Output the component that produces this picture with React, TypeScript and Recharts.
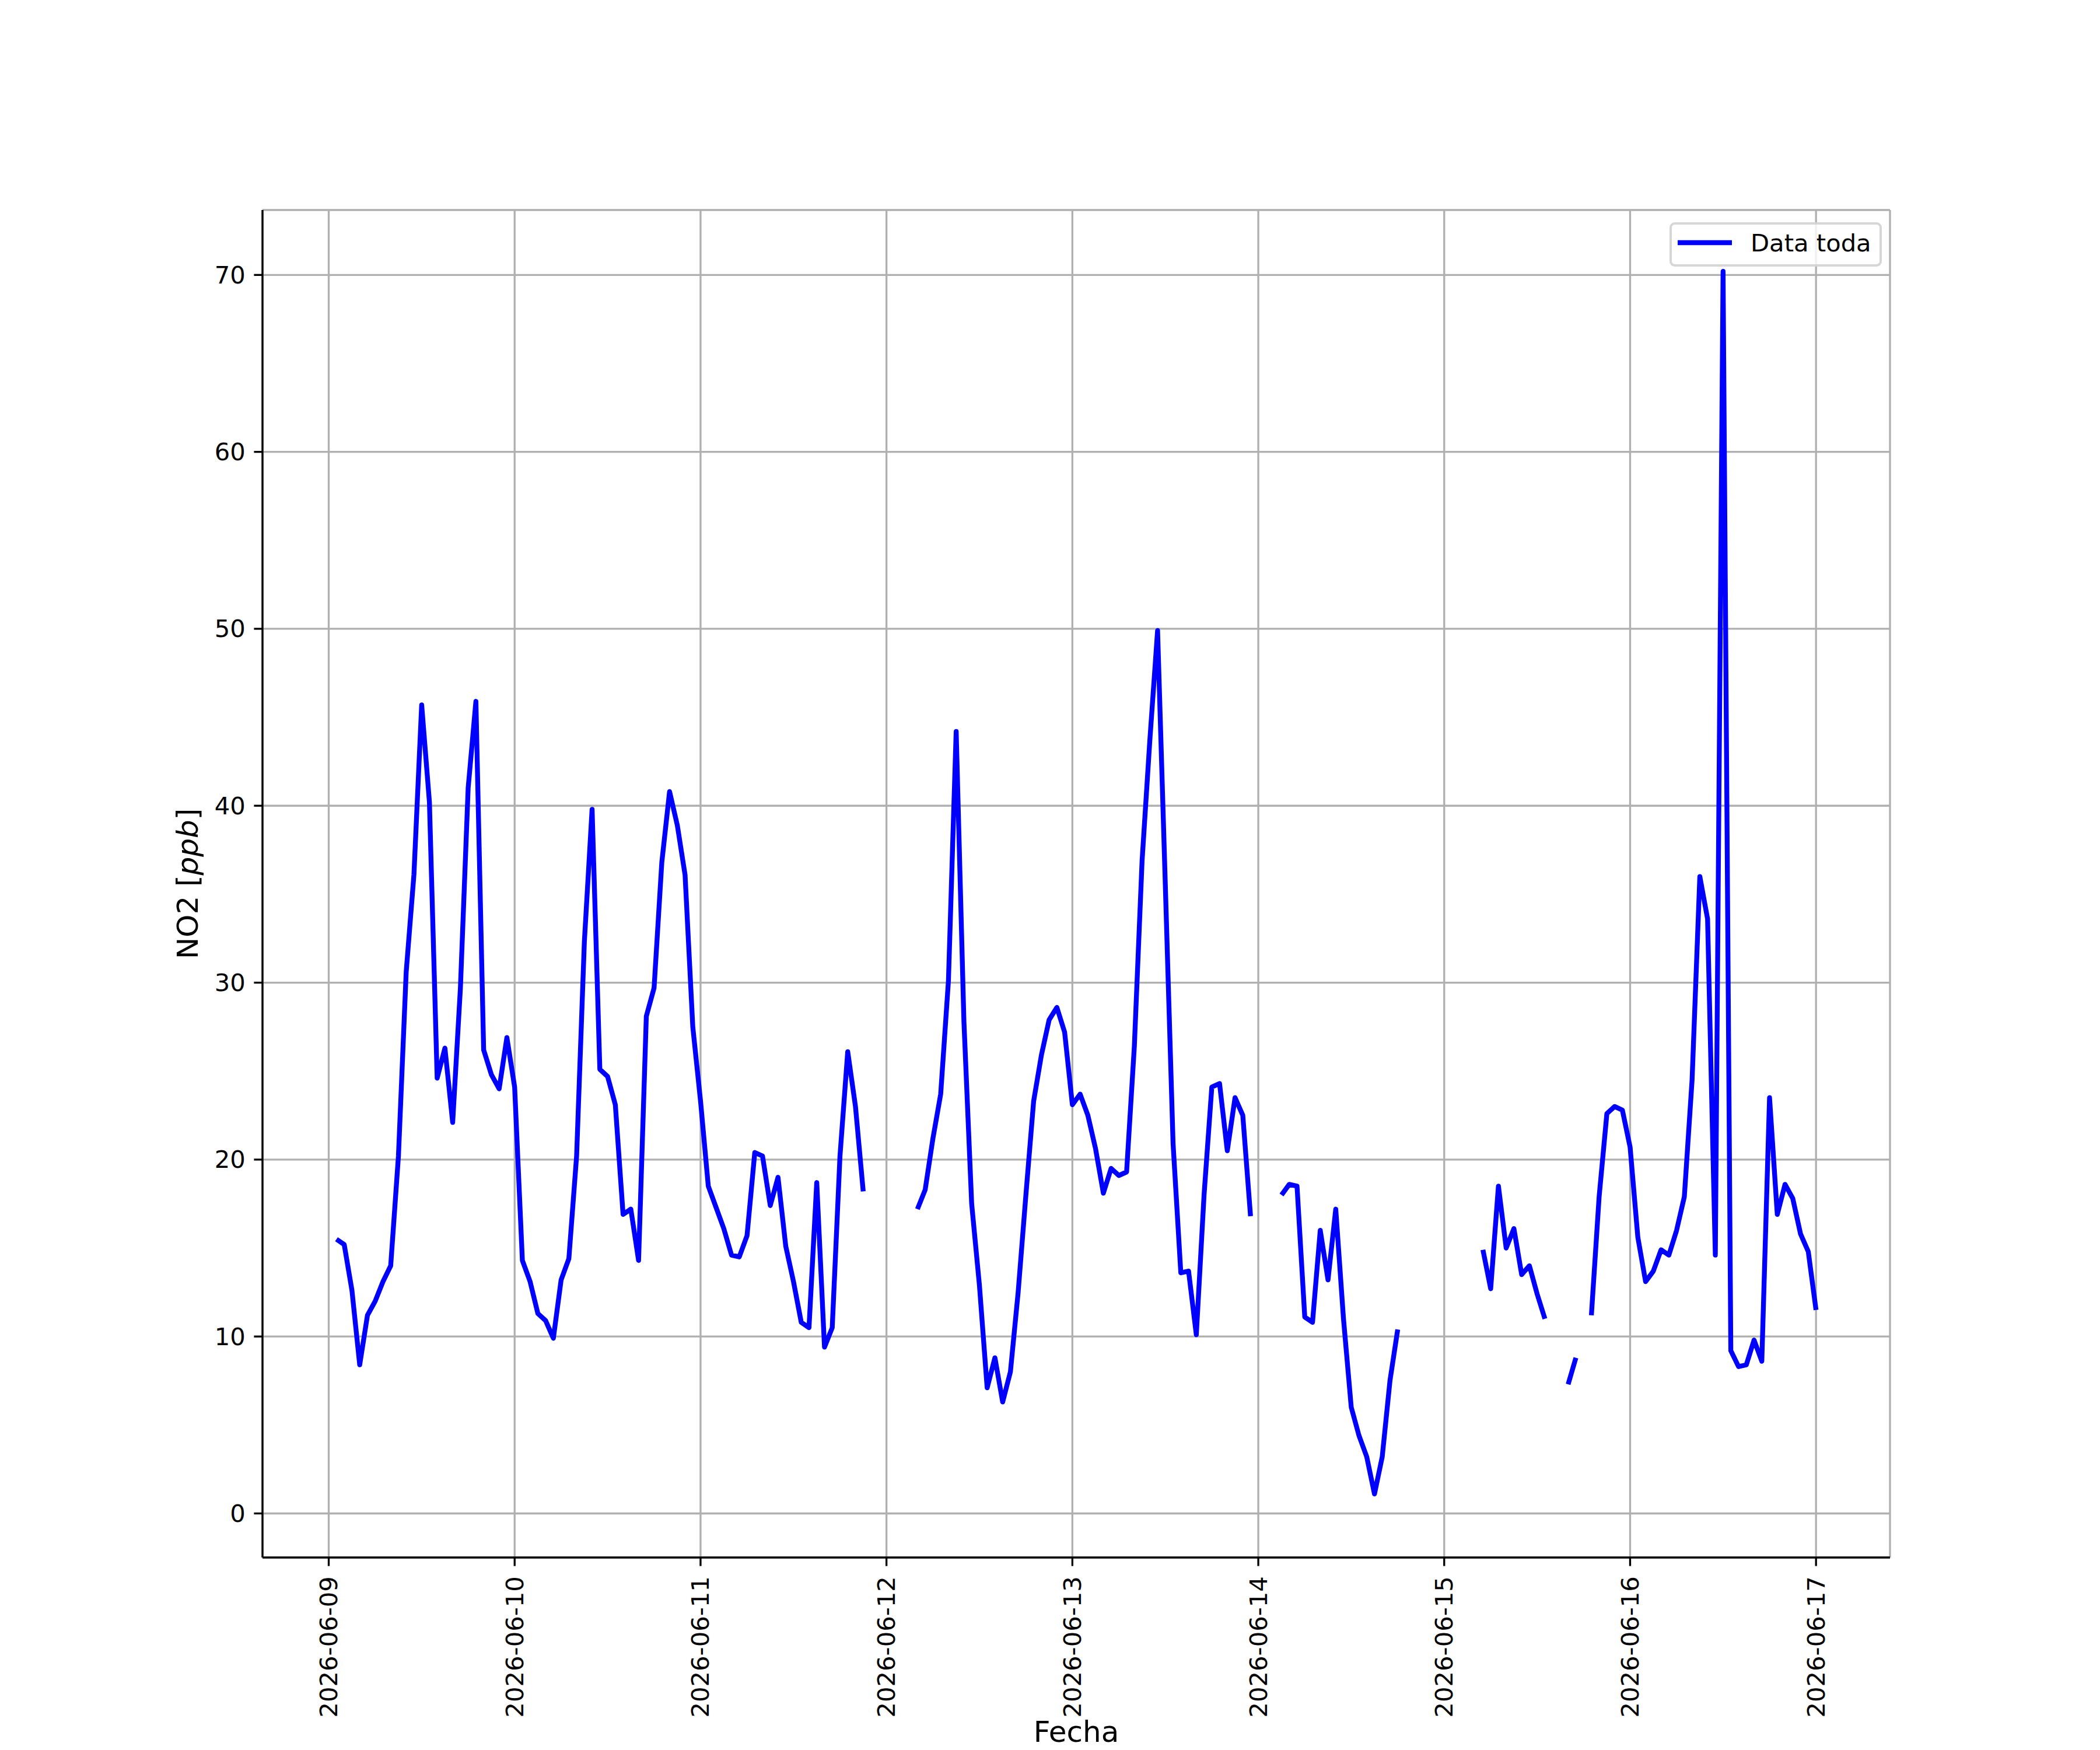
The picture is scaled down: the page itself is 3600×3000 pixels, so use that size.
import { CartesianGrid, Legend, Line, LineChart, XAxis, YAxis } from 'recharts'

// hourly NO2 readings (ppb), one array per day, index = hour of day; null = no reading
const hours09 = [null, 15.5, 15.2, 12.6, 8.4, 11.2, 12.0, 13.1, 14.0, 20.2, 30.6, 36.1, 45.7, 40.2, 24.6, 26.3, 22.1, 29.7, 41.0, 45.9, 26.2, 24.8, 24.0, 26.9]
const hours10 = [24.1, 14.3, 13.1, 11.3, 10.9, 9.9, 13.2, 14.4, 20.2, 32.3, 39.8, 25.1, 24.7, 23.1, 16.9, 17.2, 14.3, 28.1, 29.7, 36.8, 40.8, 38.9, 36.1, 27.5]
const hours11 = [23.3, 18.5, 17.3, 16.1, 14.6, 14.5, 15.7, 20.4, 20.2, 17.4, 19.0, 15.1, 13.1, 10.8, 10.5, 18.7, 9.4, 10.5, 20.2, 26.1, 23.0, 18.2, null, null]
const hours12 = [null, null, null, null, 17.2, 18.3, 21.2, 23.7, 30.1, 44.2, 27.8, 17.5, 12.9, 7.1, 8.8, 6.3, 8.0, 12.5, 18.0, 23.3, 25.9, 27.9, 28.6, 27.2]
const hours13 = [23.1, 23.7, 22.5, 20.6, 18.1, 19.5, 19.1, 19.3, 26.4, 36.9, 43.7, 49.9, 35.5, 20.9, 13.6, 13.7, 10.1, 18.0, 24.1, 24.3, 20.5, 23.5, 22.5, 16.8]
const hours14 = [null, null, null, 18.0, 18.6, 18.5, 11.1, 10.8, 16.0, 13.2, 17.2, 11.0, 6.0, 4.4, 3.2, 1.1, 3.2, 7.5, 10.4, null, null, null, null, null]
const hours15 = [null, null, null, null, null, 14.9, 12.7, 18.5, 15.0, 16.1, 13.5, 14.0, 12.4, 11.0, null, null, 7.3, 8.8, null, 11.2, 17.9, 22.6, 23.0, 22.8]
const hours16 = [20.7, 15.6, 13.1, 13.7, 14.9, 14.6, 16.0, 17.9, 24.5, 36.0, 33.6, 14.6, 70.2, 9.2, 8.3, 8.4, 9.8, 8.6, 23.5, 16.9, 18.6, 17.8, 15.8, 14.8]
const hours17 = [11.5]

const dateLabels = ['2026-06-09', '2026-06-10', '2026-06-11', '2026-06-12', '2026-06-13', '2026-06-14', '2026-06-15', '2026-06-16', '2026-06-17']
const yTicks = [0, 10, 20, 30, 40, 50, 60, 70]

const days = [hours09, hours10, hours11, hours12, hours13, hours14, hours15, hours16, hours17]
// t = days since 2026-06-09 00:00
const data = days.flatMap((arr, d) => arr.map((v, h) => ({ t: d + h / 24, v })))

const FONT = 'DejaVu Sans, Liberation Sans, sans-serif'
const FS = 41.7
const LABEL_FS = 50
const LW = 3.33
const SERIES_W = 8.33

const YTick = (props: any) => {
    const { x, y, payload } = props
    return (
        <text x={x} y={y} textAnchor='end' dominantBaseline='central' fontFamily={FONT} fontSize={FS} fill='#000'>
            {payload.value}
        </text>
    )
}

const XTick = (props: any) => {
    const { x, y, payload } = props
    const yy = y + 3
    return (
        <text
            x={x}
            y={yy}
            transform={`rotate(-90, ${x}, ${yy})`}
            textAnchor='end'
            dominantBaseline='central'
            fontFamily={FONT}
            fontSize={FS}
            fill='#000'
        >
            {dateLabels[payload.value]}
        </text>
    )
}

const YLabel = () => (
    <text
        x={322}
        y={1515}
        transform='rotate(-90, 322, 1515)'
        textAnchor='middle'
        dominantBaseline='central'
        fontFamily={FONT}
        fontSize={LABEL_FS}
        fill='#000'
    >
        <tspan>NO2 [</tspan>
        <tspan fontStyle='italic'>ppb</tspan>
        <tspan>]</tspan>
    </text>
)

const XLabel = () => (
    <text x={1845} y={2986} textAnchor='middle' fontFamily={FONT} fontSize={LABEL_FS} fill='#000'>
        Fecha
    </text>
)

const LegendBox = () => (
    <div
        style={{
            boxSizing: 'border-box',
            width: 364,
            height: 76,
            border: '4px solid rgba(204,204,204,0.8)',
            borderRadius: 9,
            background: 'rgba(255,255,255,0.8)',
            position: 'relative',
            fontFamily: FONT,
        }}
    >
        <svg width={364} height={76} style={{ position: 'absolute', left: -4, top: -4 }}>
            <line x1={14} x2={107} y1={35} y2={35} stroke='#0000ff' strokeWidth={SERIES_W} />
            <text x={139} y={35} dominantBaseline='central' fontFamily={FONT} fontSize={FS} fill='#000'>
                Data toda
            </text>
        </svg>
    </div>
)

export default function App() {
    return (
        <div style={{ width: 3600, height: 3000, background: '#fff', position: 'absolute', left: 0, top: 0 }}>
            <style>{'body{margin:0;background:#fff}'}</style>
            <LineChart width={3600} height={3000} data={data} margin={{ top: 360, right: 360, bottom: 30, left: 0 }}>
                <CartesianGrid stroke='#b0b0b0' strokeWidth={LW} />
                <XAxis
                    dataKey='t'
                    type='number'
                    domain={[-0.3562, 8.3979]}
                    allowDataOverflow
                    ticks={[0, 1, 2, 3, 4, 5, 6, 7, 8]}
                    interval={0}
                    height={300}
                    tickSize={14.6}
                    tickMargin={14.6}
                    tick={<XTick />}
                    tickLine={{ stroke: '#000', strokeWidth: LW }}
                    axisLine={{ stroke: '#000', strokeWidth: LW }}
                    label={{ content: <XLabel /> }}
                />
                <XAxis
                    xAxisId='top'
                    orientation='top'
                    type='number'
                    domain={[-0.3562, 8.3979]}
                    allowDataOverflow
                    height={0}
                    tick={false}
                    tickLine={false}
                    axisLine={{ stroke: '#000', strokeWidth: LW }}
                />
                <YAxis
                    type='number'
                    domain={[-2.49, 73.67]}
                    allowDataOverflow
                    ticks={yTicks}
                    interval={0}
                    width={450}
                    tickSize={14.6}
                    tickMargin={14.6}
                    tick={<YTick />}
                    tickLine={{ stroke: '#000', strokeWidth: LW }}
                    axisLine={{ stroke: '#000', strokeWidth: LW }}
                    label={{ content: <YLabel /> }}
                />
                <YAxis
                    yAxisId='right'
                    orientation='right'
                    type='number'
                    domain={[-2.49, 73.67]}
                    allowDataOverflow
                    width={0}
                    tick={false}
                    tickLine={false}
                    axisLine={{ stroke: '#000', strokeWidth: LW }}
                />
                <Line
                    dataKey='v'
                    type='linear'
                    stroke='#0000ff'
                    strokeWidth={SERIES_W}
                    strokeLinejoin='round'
                    dot={false}
                    activeDot={false}
                    connectNulls={false}
                    isAnimationActive={false}
                    name='Data toda'
                />
                <Legend
                    layout='vertical'
                    align='center'
                    verticalAlign='middle'
                    content={<LegendBox />}
                    wrapperStyle={{ position: 'absolute', left: 2862, top: 381, width: 364, height: 76, right: 'auto', bottom: 'auto' }}
                />
            </LineChart>
        </div>
    )
}
